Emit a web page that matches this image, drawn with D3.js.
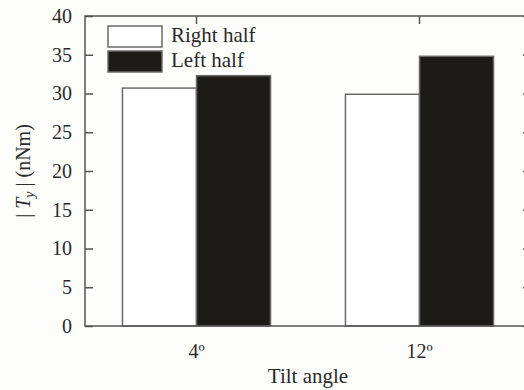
<!DOCTYPE html>
<html>
<head>
<meta charset="utf-8">
<script src="https://cdn.jsdelivr.net/npm/d3@7"></script>
<style>
  html, body { margin: 0; padding: 0; background: #fdfdfb; }
  svg { display: block; }
  text { font-family: "Liberation Serif", "Times New Roman", serif; fill: #2a2a2a; }
</style>
</head>
<body>
<svg id="chart" width="524" height="390"></svg>
<script>
// Torque magnitude per tilt angle, split by half
const categories = ["4º", "12º"];
const seriesNames = ["Right half", "Left half"];
const rightHalf = [30.7, 29.9];
const leftHalf = [32.3, 34.8];
const yTicks = [0, 5, 10, 15, 20, 25, 30, 35, 40];

const svg = d3.select("#chart");
const plotL = 85, plotR = 531, plotT = 16, plotB = 326;
const axisColor = "#555";

const x0 = d3.scaleBand().domain(categories).range([plotL, plotR])
  .paddingInner(0.336).paddingOuter(0.168);
const x1 = d3.scaleBand().domain(seriesNames).range([0, x0.bandwidth()]);
const y = d3.scaleLinear().domain([0, 40]).range([plotB, plotT]);

const fills = { "Right half": "#ffffff", "Left half": "#1c1b17" };

// bars
const rows = categories.map((c, i) => ({ cat: c, vals: [
  { s: "Right half", v: rightHalf[i] },
  { s: "Left half", v: leftHalf[i] }
]}));

const g = svg.selectAll("g.grp").data(rows).enter().append("g")
  .attr("class", "grp")
  .attr("transform", d => `translate(${x0(d.cat)},0)`);
g.selectAll("rect").data(d => d.vals).enter().append("rect")
  .attr("x", d => x1(d.s))
  .attr("y", d => y(d.v))
  .attr("width", x1.bandwidth())
  .attr("height", d => y(0) - y(d.v))
  .attr("fill", d => fills[d.s])
  .attr("stroke", "#6a6a6a")
  .attr("stroke-width", 1.5);

// frame
svg.append("rect").attr("x", plotL).attr("y", plotT)
  .attr("width", plotR - plotL).attr("height", plotB - plotT)
  .attr("fill", "none").attr("stroke", axisColor).attr("stroke-width", 1.5);

// left axis: inward ticks
const yAxisL = svg.append("g").attr("transform", `translate(${plotL},0)`)
  .call(d3.axisLeft(y).tickValues(yTicks).tickSize(0).tickPadding(13));
yAxisL.select(".domain").remove();
yAxisL.selectAll("text").style("font-size", "20px").attr("fill", "#2a2a2a");
yAxisL.selectAll(".tick").append("line").attr("x1", 0).attr("x2", 8)
  .attr("stroke", axisColor).attr("stroke-width", 1.5);

// right axis: inward ticks
const yAxisR = svg.append("g").attr("transform", `translate(${plotR},0)`)
  .call(d3.axisRight(y).tickValues(yTicks).tickSize(0).tickFormat(""));
yAxisR.select(".domain").remove();
yAxisR.selectAll(".tick").append("line").attr("x1", 0).attr("x2", -8)
  .attr("stroke", axisColor).attr("stroke-width", 1.5);

// top axis: inward ticks at category centres
const xTop = svg.append("g").attr("transform", `translate(0,${plotT})`)
  .call(d3.axisTop(x0).tickSize(0).tickFormat(""));
xTop.select(".domain").remove();
xTop.selectAll(".tick").append("line").attr("y1", 0).attr("y2", 8)
  .attr("stroke", axisColor).attr("stroke-width", 1.5);

// bottom axis labels
const xBot = svg.append("g").attr("transform", `translate(0,${plotB})`)
  .call(d3.axisBottom(x0).tickSize(0).tickPadding(18));
xBot.select(".domain").remove();
xBot.selectAll("text").style("font-size", "20px").attr("fill", "#2a2a2a");

// axis titles
svg.append("text").attr("x", (plotL + plotR) / 2).attr("y", 383)
  .attr("text-anchor", "middle").style("font-size", "21px").text("Tilt angle");

const yt = svg.append("text")
  .attr("transform", `translate(30,${(plotT + plotB) / 2}) rotate(-90)`)
  .attr("text-anchor", "middle").style("font-size", "20px");
yt.append("tspan").text("| ");
yt.append("tspan").style("font-style", "italic").text("T");
yt.append("tspan").style("font-style", "italic").style("font-size", "14px")
  .attr("dy", 4).text("y");
yt.append("tspan").attr("dy", -4).text(" | (nNm)");

// legend
const legend = svg.append("g").attr("transform", "translate(108,26)");
seriesNames.forEach((s, i) => {
  const row = legend.append("g").attr("transform", `translate(0,${i * 25})`);
  row.append("rect").attr("width", 54).attr("height", 21)
    .attr("fill", fills[s]).attr("stroke", "#6a6a6a").attr("stroke-width", 1.5);
  row.append("text").attr("x", 63).attr("y", 16)
    .style("font-size", "21px").text(s);
});
</script>
</body>
</html>
